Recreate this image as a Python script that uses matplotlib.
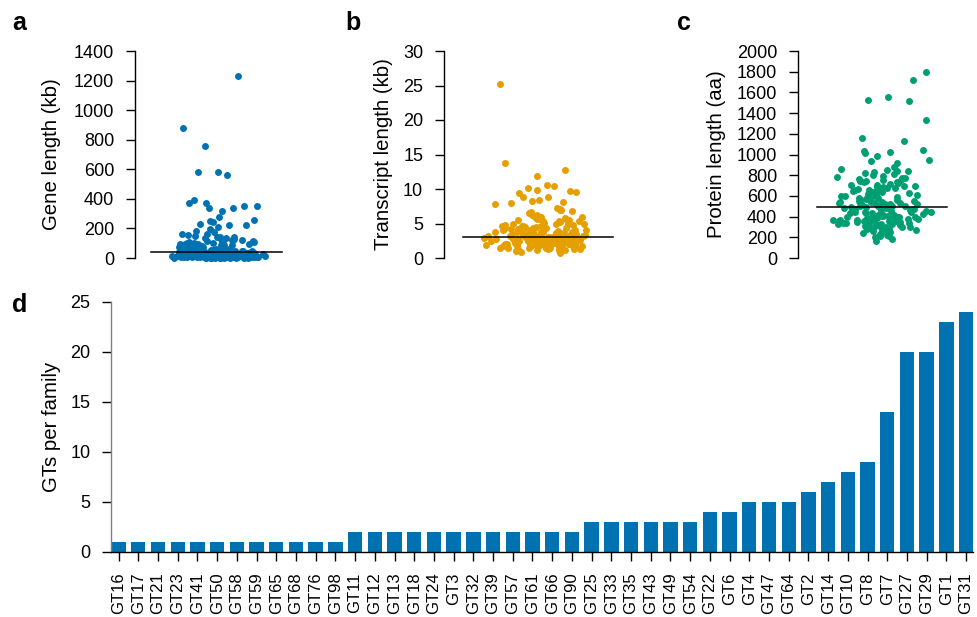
import numpy as np
import matplotlib.pyplot as plt

plt.rcParams['font.family'] = ['Liberation Sans', 'DejaVu Sans']

BLUE = '#0072B2'
ORANGE = '#E69F00'
GREEN = '#009E73'

# panel a : gene length (kb), one value per GT
gene_len = [1230, 880, 760, 585, 580, 560, 395, 375, 370, 355, 350, 340, 335, 320, 280, 260,
            250, 245, 230, 225, 220, 210, 195, 185, 175, 165, 160, 155,
            148, 145, 142, 140, 138, 135, 130, 128, 125, 122, 120, 118, 115, 112, 110, 108,
            105, 103, 102, 100,
            98, 96, 95, 93, 91, 90, 88, 86, 85, 84, 82, 80, 79, 77, 76, 75, 73, 72, 70, 69,
            68, 66, 65, 64, 63, 62, 60, 59, 58, 57, 56, 55, 54, 53, 52, 51, 50, 50, 49, 48,
            47, 47, 46, 45, 45, 44, 44, 43, 43, 42, 42, 41, 41, 41, 40, 40,
            39, 38, 38, 37, 36, 36, 35, 34, 34, 33, 32, 32, 31, 30, 30, 29, 28, 28, 27, 26,
            26, 25, 25, 24, 23, 23, 22, 22, 21, 21, 20, 20, 19, 19, 18, 18, 17, 17, 16, 16,
            15, 15, 15, 14, 14, 13, 13, 13, 12, 12, 12, 11, 11, 11, 10, 10, 10, 9, 9, 9,
            8, 8, 8, 8, 7, 7, 7, 7, 6, 6, 6, 6, 5, 5, 5, 5, 4, 4, 4, 4, 3, 3, 3, 3,
            2, 2, 2, 2, 1, 1, 1, 1, 1]

# panel b : transcript length (kb)
tx_len = [25.2, 13.8, 12.8, 11.9, 10.6, 10.5, 10.2, 9.9, 9.7, 9.6, 9.4, 8.9, 8.9, 8.4, 8.2,
          8.1, 7.9, 7.8, 7.3, 7.1, 7.0, 6.9, 6.8, 6.6, 6.5, 6.3, 6.2, 6.1, 6.0, 5.9,
          5.8, 5.7, 5.6, 5.5, 5.5, 5.4, 5.3, 5.2, 5.1, 5.0, 5.0, 4.9, 4.8, 4.8, 4.7, 4.6,
          4.6, 4.5, 4.5, 4.4, 4.4, 4.3, 4.3, 4.2, 4.2, 4.1, 4.1, 4.0, 4.0, 4.0, 3.9, 3.9,
          3.8, 3.8, 3.8, 3.7, 3.7, 3.7, 3.6, 3.6, 3.6, 3.5, 3.5, 3.5, 3.4, 3.4, 3.4, 3.3,
          3.3, 3.3, 3.2, 3.2, 3.2, 3.2, 3.1, 3.1, 3.1, 3.1,
          5.9, 5.6, 5.3, 5.0, 4.7, 4.4, 4.1, 3.8, 3.5, 3.3,
          3.0, 3.0, 3.0, 3.0, 2.9, 2.9, 2.9, 2.9, 2.8, 2.8, 2.8, 2.8, 2.7, 2.7, 2.7, 2.7,
          2.6, 2.6, 2.6, 2.6, 2.5, 2.5, 2.5, 2.5, 2.4, 2.4, 2.4, 2.4, 2.3, 2.3, 2.3, 2.3,
          2.2, 2.2, 2.2, 2.2, 2.1, 2.1, 2.1, 2.1, 2.0, 2.0, 2.0, 2.0, 1.9, 1.9, 1.9, 1.8,
          1.8, 1.8, 1.7, 1.7, 1.7, 1.6, 1.6, 1.6, 1.5, 1.5, 1.5, 1.4, 1.4, 1.4, 1.3, 1.3,
          1.3, 1.2, 1.2, 1.1, 1.1, 1.0, 0.9, 0.7,
          2.9, 2.8, 2.7, 2.6, 2.5, 2.4, 2.3, 2.2, 2.1, 2.0, 1.9, 1.8,
          2.95, 2.75, 2.55, 2.35, 2.15, 1.95, 1.75, 1.55, 1.35, 2.65]

# panel c : protein length (aa)
prot_len = [1800, 1720, 1560, 1530, 1520, 1330, 1160, 1130, 1040, 1030, 1020, 1010, 990, 950,
            940, 920, 880, 860, 850, 845, 840, 830, 820, 810,
            800, 790, 780, 775, 770, 760, 755, 750, 745, 740, 735, 730, 720, 715, 710, 705,
            700, 695, 690, 680, 675, 670, 660, 655, 650, 640, 635, 630, 620, 615, 610, 600,
            595, 590, 580, 575, 570, 560, 555, 550, 545, 540, 535, 530, 530, 525, 520, 515,
            510, 505, 500, 500,
            690, 660, 640, 620, 600, 580, 560, 540, 520, 505,
            495, 490, 485, 480, 475, 470, 465, 460, 455, 450, 445, 440, 440, 435, 430, 430,
            425, 420, 420, 415, 410, 410, 405, 400, 400, 400, 395, 395, 390, 390, 385, 385,
            380, 380, 375, 375, 370, 370, 365, 365, 360, 360, 355, 355, 350, 350, 345, 345,
            340, 340, 335, 330, 330, 325, 320, 320, 315, 310, 305, 300, 300, 295, 290, 285,
            280, 275, 270, 265, 260, 255, 250, 240, 230, 220, 215, 210, 200, 180, 160,
            440, 420, 400, 380, 360, 340, 320, 300, 410, 370]

# panel d : GTs per family
families = ['GT16', 'GT17', 'GT21', 'GT23', 'GT41', 'GT50', 'GT58', 'GT59', 'GT65', 'GT68',
            'GT76', 'GT98', 'GT11', 'GT12', 'GT13', 'GT18', 'GT24', 'GT3', 'GT32', 'GT39',
            'GT57', 'GT61', 'GT66', 'GT90', 'GT25', 'GT33', 'GT35', 'GT43', 'GT49', 'GT54',
            'GT22', 'GT6', 'GT4', 'GT47', 'GT64', 'GT2', 'GT14', 'GT10', 'GT8', 'GT7',
            'GT27', 'GT29', 'GT1', 'GT31']
counts = [1, 1, 1, 1, 1, 1, 1, 1, 1, 1, 1, 1,
          2, 2, 2, 2, 2, 2, 2, 2, 2, 2, 2, 2,
          3, 3, 3, 3, 3, 3,
          4, 4, 5, 5, 5, 6, 7, 8, 9, 14, 20, 20, 23, 24]

W, H = 977, 617
TICK_FS = 13
LABEL_FS = 14.7
fig = plt.figure(figsize=(W / 100, H / 100), dpi=100)


def px_axes(x0, x1, ytop, ybot):
    return fig.add_axes([x0 / W, 1 - ybot / H, (x1 - x0) / W, (ybot - ytop) / H])


def spread(n, seed):
    # fixed hash-style scramble so the strip jitter has no visible pattern
    i = np.arange(n) + seed
    u1 = (np.sin(i * 12.9898) * 43758.5453) % 1
    u2 = (np.sin(i * 78.233) * 24634.6345) % 1
    return 2 * (0.65 * u1 + 0.35 * u2 - 0.5)


def strip(ax, vals, color, ymax, step, label, line, label_x, seed):
    vals = np.array(vals, dtype=float)
    offs = 0.34 * spread(len(vals), seed)
    ax.scatter(0.55 + offs, vals, s=25, color=color, linewidths=0, clip_on=False, zorder=2)
    med = np.median(vals)
    ax.plot(line, [med, med], color='black', lw=1.1, clip_on=False, zorder=3)
    ax.set_xlim(0, 1)
    ax.set_ylim(0, ymax)
    ax.set_yticks(np.arange(0, ymax + 1e-9, step))
    ax.set_xticks([])
    for s in ['top', 'right', 'bottom']:
        ax.spines[s].set_visible(False)
    ax.spines['left'].set_linewidth(1)
    ax.tick_params(axis='y', length=6.5, width=1, pad=8.5, labelsize=TICK_FS)
    ax.set_ylabel(label, fontsize=LABEL_FS)
    ax.yaxis.set_label_coords(label_x, 0.5)


ax_a = px_axes(135, 285, 51, 258)
strip(ax_a, gene_len, BLUE, 1400, 200, 'Gene length (kb)', [0.107, 0.98],
      (61 - 135) / 150, 1)
ax_b = px_axes(444, 615, 51, 258)
strip(ax_b, tx_len, ORANGE, 30, 5, 'Transcript length (kb)', [0.113, 0.987],
      (393 - 444) / 171, 300)
ax_c = px_axes(798, 950, 51, 258)
strip(ax_c, prot_len, GREEN, 2000, 200, 'Protein length (aa)', [0.123, 0.978],
      (726 - 798) / 152, 700)

ax_d = px_axes(111.4, 973.3, 302, 552)
x = np.arange(len(families))
ax_d.bar(x, counts, width=0.73, color=BLUE)
ax_d.set_xlim(-0.365, len(families) - 1 + 0.365)
ax_d.set_ylim(0, 25)
ax_d.set_yticks([0, 5, 10, 15, 20, 25])
ax_d.set_xticks(x)
ax_d.set_xticklabels(families, rotation=90, fontsize=12)
for s in ['top', 'right']:
    ax_d.spines[s].set_visible(False)
ax_d.spines['left'].set_color('0.5')
ax_d.spines['left'].set_linewidth(1)
ax_d.spines['bottom'].set_linewidth(1)
ax_d.tick_params(axis='y', length=6.5, width=1, pad=8.5, labelsize=TICK_FS)
ax_d.tick_params(axis='x', length=6.5, width=1, pad=8)
ax_d.set_ylabel('GTs per family', fontsize=LABEL_FS)
ax_d.yaxis.set_label_coords((61 - 111.4) / 861.9, 0.5)

for lab, xp, yp in [('a', 12, 30), ('b', 345.5, 30), ('c', 677, 30), ('d', 12, 312)]:
    fig.text(xp / W, 1 - yp / H, lab, fontsize=18, fontweight='bold', va='baseline')

fig.savefig('out.png', dpi=100)
